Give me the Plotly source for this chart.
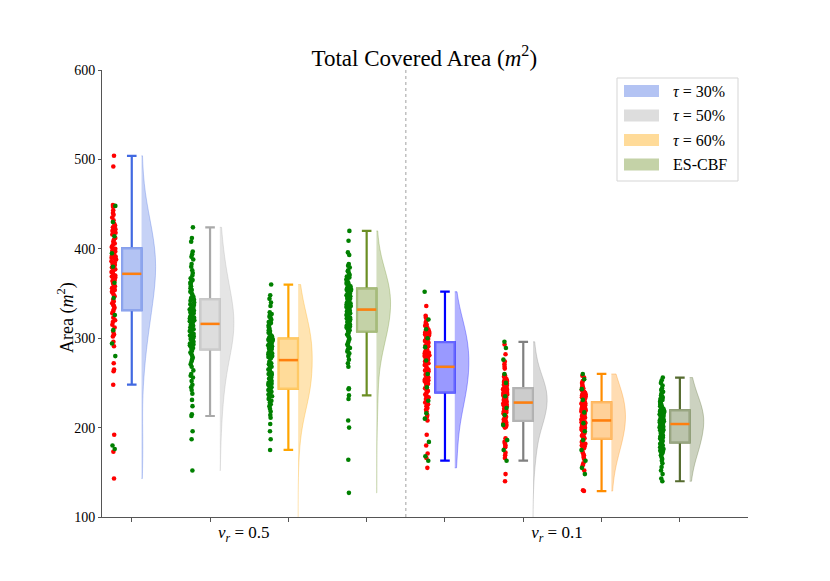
import numpy as np
import plotly.graph_objects as go

# ---------------- data ----------------
speeds = ["0.5", "0.1"]
methods = ["τ=30%", "τ=50%", "τ=60%", "ES-CBF"]
legend_labels = ["<i>τ</i> = 30%", "<i>τ</i> = 50%", "<i>τ</i> = 60%", "ES-CBF"]
y_ticks = [100, 200, 300, 400, 500, 600]

# v_r = 0.5
vr05_tau30_red = [143, 173, 192, 248, 263, 265, 272, 291, 296,
                  302, 304, 307, 312, 315, 318, 320, 323, 328, 330,
                  332, 334, 336, 337, 339, 341, 343, 347, 349, 351, 352, 354, 356, 358, 359, 361,
                  364, 365, 367, 368, 369, 370, 371,
                  373, 374, 375, 377, 378, 379, 382, 383, 384, 385, 386, 388, 389, 390, 391, 392,
                  393, 394, 396, 397, 398, 399, 400,
                  402, 404, 406, 408, 410, 412, 416, 418, 420, 422, 424, 426, 428, 432, 435, 438,
                  440, 443, 447, 449, 492, 504]
vr05_tau30_green = [176, 180, 280, 294, 309, 326, 345, 362, 380, 395, 414, 430, 448]

vr05_tau50_red = []
vr05_tau50_green = [152, 187, 196, 213, 215, 224, 231, 238, 242, 245, 248, 252, 256, 258, 260, 264,
                    268, 271, 274, 276, 278, 280, 282, 284, 286,
                    288, 289, 290, 291, 292, 293, 294, 296, 297, 298, 299, 300, 301, 302, 303, 305,
                    306, 307, 308, 309, 310, 311, 312, 314, 315,
                    317, 318, 319, 320, 321, 322, 323, 324, 325, 326, 327, 328, 329, 330, 331, 332,
                    333, 334, 335, 336, 337, 338, 340, 342, 343,
                    345, 346, 348, 350, 352, 354, 356, 358, 360, 362, 363, 365, 367, 370, 373, 376,
                    380, 383, 388, 391, 394, 397, 408, 412, 424]

vr05_tau60_red = []
vr05_tau60_green = [20, 175, 187, 196, 204, 211, 214, 218, 221, 224, 226, 228, 230, 232, 234, 235,
                    236, 237, 238, 239, 240, 241, 241, 242, 242,
                    244, 245, 246, 247, 248, 249, 250, 252, 253, 254, 255, 256, 258, 259, 260, 261,
                    263, 264, 265, 266, 268, 269, 271, 272, 274,
                    277, 278, 279, 280, 281, 282, 283, 284, 285, 286, 287, 288, 289, 290, 291, 292,
                    293, 294, 295, 296, 297, 298, 298, 299, 299,
                    301, 302, 303, 305, 306, 308, 309, 311, 312, 314, 315, 317, 318, 320, 321, 323,
                    324, 326, 327, 329, 336, 340, 344, 348, 360]

vr05_escbf_red = []
vr05_escbf_green = [127, 164, 200, 208, 232, 236, 243, 244, 268, 272, 276, 280, 283, 285, 287, 289,
                    291, 293, 295, 297, 299, 301, 303, 304, 306,
                    308, 309, 310, 311, 312, 313, 314, 315, 316, 317, 318, 319, 320, 321, 322, 323,
                    324, 325, 326, 327, 328, 329, 330, 331, 331,
                    333, 334, 335, 336, 337, 338, 339, 340, 341, 342, 343, 344, 345, 346, 347, 348,
                    349, 350, 351, 352, 353, 354, 354, 355, 355,
                    357, 358, 359, 360, 361, 362, 363, 364, 365, 366, 367, 368, 369, 370, 371, 373,
                    375, 376, 379, 381, 383, 393, 396, 409, 420]

# v_r = 0.1
vr01_tau30_red = [155, 166, 171, 180, 192, 208, 212, 214, 218, 220, 222, 224, 226, 228, 232, 234,
                  235, 237, 238,
                  240, 241, 242, 243, 244, 247, 248, 249, 250, 251, 252, 253, 254, 256, 257, 258,
                  259, 261, 262, 263, 264, 265, 267,
                  269, 270, 271, 272, 273, 274, 276, 277, 278, 279, 280, 281, 282, 283, 284, 285,
                  286, 287, 288, 291, 292, 294, 295,
                  297, 298, 299, 301, 302, 303, 304, 305, 306, 307, 308, 309, 311, 312, 314, 315,
                  317, 319, 323, 325, 336]
vr01_tau30_green = [163, 168, 184, 210, 216, 230, 245, 260, 275, 290, 300, 310, 321, 352]

vr01_tau50_red = [20, 140, 148, 166, 169, 172, 178, 180, 182, 184, 188, 200, 201, 202, 202, 203,
                  204, 205, 205, 206, 206,
                  208, 209, 209, 210, 211, 212, 213, 215, 216, 217, 218, 219, 220, 220, 221, 223,
                  224, 224, 225, 226, 226, 227, 227,
                  229, 229, 230, 231, 232, 233, 233, 234, 236, 237, 237, 238, 239, 239, 240, 240,
                  241, 241, 242, 242, 243, 243, 244, 244,
                  245, 246, 247, 248, 249, 251, 252, 253, 254, 255, 256, 257, 258, 259, 266, 268,
                  271, 274, 282, 293]
vr01_tau50_green = [163, 175, 186, 203, 214, 222, 235, 250, 260, 276, 289, 296]

vr01_tau60_red = [129, 130, 152, 158, 160, 165, 167, 169, 171, 173, 177, 178, 179, 180, 181, 182,
                  183, 184, 185, 187,
                  188, 189, 190, 191, 192, 193, 194, 195, 197, 198, 199, 200, 200, 201, 202, 203,
                  203, 204, 205, 206, 206, 207, 207,
                  209, 210, 211, 212, 213, 214, 214, 215, 216, 218, 219, 220, 220, 221, 222, 223,
                  224, 224, 225, 226, 226, 227, 227, 228,
                  229, 230, 232, 233, 234, 235, 236, 237, 238, 239, 240, 241, 242, 244, 245, 246,
                  248, 250, 252, 256, 258]
vr01_tau60_green = [148, 155, 163, 175, 186, 196, 205, 217, 231, 243, 254, 260]

vr01_escbf_red = []
vr01_escbf_green = [140, 143, 148, 152, 156, 160, 163, 165, 167, 169, 171, 172, 173, 174, 175, 176,
                    177, 178, 179, 180, 180, 181, 181, 182, 182,
                    184, 185, 186, 187, 188, 189, 190, 191, 192, 193, 194, 195, 196, 197, 197, 198,
                    199, 200, 200, 201, 201, 202, 202, 203, 203,
                    205, 205, 206, 207, 207, 208, 209, 209, 210, 211, 211, 212, 213, 213, 214, 215,
                    215, 216, 216, 217, 217, 218, 218, 219, 219,
                    220, 221, 222, 223, 224, 225, 226, 227, 228, 229, 230, 231, 232, 233, 234, 235,
                    236, 238, 240, 242, 244, 247, 250, 253, 256]

groups_red = [vr05_tau30_red, vr05_tau50_red, vr05_tau60_red, vr05_escbf_red,
              vr01_tau30_red, vr01_tau50_red, vr01_tau60_red, vr01_escbf_red]
groups_green = [vr05_tau30_green, vr05_tau50_green, vr05_tau60_green, vr05_escbf_green,
                vr01_tau30_green, vr01_tau50_green, vr01_tau60_green, vr01_escbf_green]

# ---------------- styles ----------------
group_colors = ["#4169e1", "#a9a9a9", "#ffa500", "#6b8e23",
                "#0000ff", "#808080", "#ff8c00", "#556b2f"]
legend_colors = ["#4169e1", "#a9a9a9", "#ffa500", "#6b8e23"]
FONT = "Liberation Serif, Times New Roman, serif"
W, H = 830, 581
OFF = 8                      # page offset of the plot div (body margin)
PLOT_L, PLOT_T, PLOT_R, PLOT_B = 102, 70, 748, 517   # wanted on-screen plot area
PW, PH = PLOT_R - PLOT_L, PLOT_B - PLOT_T
ML, MT = PLOT_L - OFF, PLOT_T - OFF
MR, MB = W - ML - PW, H - MT - PH


def hex_rgb(h):
    h = h.lstrip("#")
    return tuple(int(h[i:i + 2], 16) for i in (0, 2, 4))


def rgba(h, a):
    r, g, b = hex_rgb(h)
    return f"rgba({r},{g},{b},{a})"


def blend(h, a):
    r, g, b = hex_rgb(h)
    return "rgb(%d,%d,%d)" % tuple(round(255 - a * (255 - c)) for c in (r, g, b))


def px(xp):
    return (xp - PLOT_L) / PW


def py(yp):
    return (PLOT_B - yp) / PH


def box_stats(v):
    v = np.asarray(v, dtype=float)
    q1, med, q3 = np.percentile(v, [25, 50, 75])
    iqr = q3 - q1
    lo = v[v >= q1 - 1.5 * iqr].min()
    hi = v[v <= q3 + 1.5 * iqr].max()
    return q1, med, q3, lo, hi


def kde_bandwidth(v, smooth=1.45):
    v = np.asarray(v, dtype=float)
    q1, q3 = np.percentile(v, [25, 75])
    return smooth * 1.059 * min(v.std(), (q3 - q1) / 1.349) * len(v) ** -0.2


BOX_W = 0.245
VIO_OFF = 0.125
PTS_OFF = -0.23

fig = go.Figure()
shapes = []
for i, (red, green) in enumerate(zip(groups_red, groups_green)):
    c = group_colors[i]
    vals = red + green
    q1, med, q3, lo, hi = box_stats(vals)

    fig.add_trace(go.Violin(
        x=[i + VIO_OFF] * len(vals), y=vals, side="positive", width=0.36,
        scalemode="width", spanmode="hard", points=False, bandwidth=kde_bandwidth(vals),
        fillcolor=rgba(c, 0.3), line=dict(color=rgba(c, 0.3), width=1),
        showlegend=False, hoverinfo="skip"))

    # whiskers
    fig.add_trace(go.Box(
        x=[i], q1=[q1], median=[med], q3=[q3], lowerfence=[lo], upperfence=[hi],
        width=BOX_W, whiskerwidth=0.5, boxpoints=False,
        fillcolor="rgba(0,0,0,0)", line=dict(color=c, width=2.2),
        showlegend=False, hoverinfo="skip"))
    # box body
    fig.add_trace(go.Box(
        x=[i], q1=[q1], median=[med], q3=[q3], lowerfence=[q1], upperfence=[q3],
        width=BOX_W, whiskerwidth=0, boxpoints=False,
        fillcolor=blend(c, 0.4), line=dict(color=blend(c, 0.6), width=2.2),
        showlegend=False, hoverinfo="skip"))

    shapes.append(dict(type="line", xref="x", yref="y",
                       x0=i - BOX_W / 2, x1=i + BOX_W / 2, y0=med, y1=med,
                       line=dict(color="#ff7f0e", width=2.5)))

    for pts, col in ((red, "#ff0000"), (green, "#008000")):
        if not pts:
            continue
        fig.add_trace(go.Box(
            x=[i + PTS_OFF] * len(pts), y=pts, boxpoints="all", jitter=1, pointpos=0,
            width=0.065, fillcolor="rgba(0,0,0,0)",
            line=dict(color="rgba(0,0,0,0)", width=0),
            marker=dict(color=col, size=4.6, line=dict(width=0)),
            showlegend=False, hoverinfo="skip"))

# separator between the two speed groups
shapes.append(dict(type="line", xref="x", yref="paper", x0=3.5, x1=3.5, y0=0, y1=1,
                   line=dict(color="#b0b0b0", width=1.2, dash="dot")))

# manual legend
shapes.append(dict(type="rect", xref="paper", yref="paper",
                   x0=px(617), x1=px(738), y0=py(181), y1=py(78),
                   line=dict(color="#d5d5d5", width=1), fillcolor="white", layer="above"))
annotations = []
row_y = [91, 115.5, 140, 164.5]
for k, (lab, col) in enumerate(zip(legend_labels, legend_colors)):
    shapes.append(dict(type="rect", xref="paper", yref="paper",
                       x0=px(624), x1=px(659), y0=py(row_y[k] + 6), y1=py(row_y[k] - 6),
                       line=dict(width=0), fillcolor=blend(col, 0.4), layer="above"))
    annotations.append(dict(xref="paper", yref="paper", x=px(671), y=py(row_y[k]),
                            text=lab, showarrow=False, xanchor="left", yanchor="middle",
                            font=dict(family=FONT, size=16, color="black")))

# y axis title
annotations.append(dict(xref="paper", yref="paper", x=px(66), y=py(318),
                        text="Area (<i>m</i><sup>2</sup>)", showarrow=False, textangle=-90,
                        xanchor="center", yanchor="middle",
                        font=dict(family=FONT, size=18, color="black")))

group_label_pos = [g * len(methods) + (len(methods) - 1) / 2 - 0.07 for g in range(len(speeds))]
group_label_text = [f"<i>v<sub>r</sub></i> = {sp}" for sp in speeds]

fig.update_layout(
    width=W, height=H,
    margin=dict(l=ML, r=MR, t=MT, b=MB),
    paper_bgcolor="white", plot_bgcolor="white",
    boxmode="overlay", violinmode="overlay", showlegend=False,
    title=dict(text="Total Covered Area (<i>m</i><sup>2</sup>)", x=px(426), xanchor="center",
               y=1 - (58 - OFF) / H, yanchor="middle", yref="container",
               font=dict(family=FONT, size=23, color="black")),
    xaxis=dict(range=[-0.38, 7.87], tickvals=group_label_pos, ticktext=group_label_text,
               ticks="", tickfont=dict(family=FONT, size=17, color="black"),
               minor=dict(tickvals=list(range(len(speeds) * len(methods))), ticks="outside",
                          ticklen=4, tickcolor="#555", showgrid=False),
               showline=True, linecolor="#555", linewidth=1, showgrid=False, zeroline=False),
    yaxis=dict(range=[100, 600], tickvals=y_ticks, ticks="outside", ticklen=3,
               tickcolor="#555", showline=True, linecolor="#555", linewidth=1,
               showgrid=False, zeroline=False,
               tickfont=dict(family=FONT, size=14, color="black")),
    shapes=shapes, annotations=annotations,
)

fig.write_html("out.html")
